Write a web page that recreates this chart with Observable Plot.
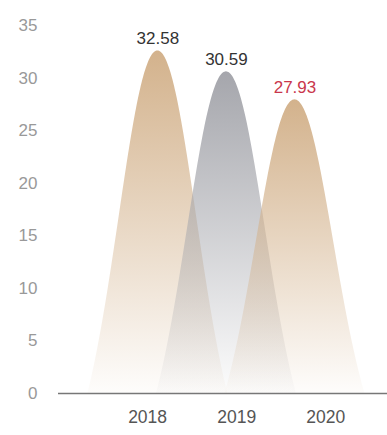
<!DOCTYPE html>
<html>
<head>
<meta charset="utf-8">
<script src="https://cdn.jsdelivr.net/npm/d3@7"></script>
<script src="https://cdn.jsdelivr.net/npm/@observablehq/plot@0.6"></script>
<style>
  html, body { margin: 0; padding: 0; background: #fff; }
  #chart svg { display: block; }
</style>
</head>
<body>
<div id="chart"></div>
<script>
// ---- data ----
const years = ["2018", "2019", "2020"];
const values = [32.58, 30.59, 27.93];
const yTicks = [0, 5, 10, 15, 20, 25, 30, 35];
const labelColors = ["#333333", "#333333", "#c9374c"];
const fills = ["url(#gTan)", "url(#gGray)", "url(#gTan)"];

// ---- layout helpers (geometry, not data) ----
const peakX = i => 1.45 + i;          // mountain centre on x (linear units)
const labelX = i => 1.3 + 1.3 * i;    // category label position
const halfW = 1.02;                   // mountain half width at base

// bell outline: cubic bezier from top (0,1) to base (1,0), mirrored
function bell(cx, h) {
  const a = 0.346, b = 0.574, c = 0.35, n = 90;
  const right = [];
  for (let k = 0; k <= n; k++) {
    const t = k / n, u = 1 - t;
    const xn = 3*u*u*t*a + 3*u*t*t*b + t*t*t;
    const vn = u*u*u + 3*u*u*t + 3*u*t*t*c;
    right.push([xn, vn]);
  }
  const left = right.slice(1).map(([x, v]) => [-x, v]).reverse();
  return [...left, ...right].map(([x, v]) => ({x: cx + halfW * x, y: h * v}));
}

const marks = [];
values.forEach((v, i) => {
  marks.push(Plot.areaY(bell(peakX(i), v), {x: "x", y: "y", fill: fills[i], curve: "linear"}));
});
marks.push(Plot.ruleY([0], {stroke: "#777", strokeWidth: 1.5}));
marks.push(Plot.axisY(yTicks, {tickSize: 0, tickPadding: 21, fill: "#999", fontSize: 17, label: null}));
marks.push(Plot.text(values, {
  x: (d, i) => peakX(i), y: d => d, text: d => d.toFixed(2),
  dy: -12, fill: (d, i) => labelColors[i], fontSize: 17, letterSpacing: 1.4
}));
marks.push(Plot.text(years, {
  x: (d, i) => labelX(i), y: () => 0, text: d => d,
  dy: 24, fill: "#555", fontSize: 17.5, letterSpacing: 2
}));

const chart = Plot.plot({
  width: 387,
  height: 435,
  marginLeft: 58,
  marginRight: 0,
  marginTop: 25,
  marginBottom: 42,
  style: {fontFamily: "'Liberation Sans', Helvetica, Arial, sans-serif", background: "#fff", overflow: "visible"},
  x: {domain: [0, 4.8], axis: null},
  y: {domain: [0, 35], axis: null},
  marks
});

// gradients
const ns = "http://www.w3.org/2000/svg";
const defs = document.createElementNS(ns, "defs");
function grad(id, color) {
  const g = document.createElementNS(ns, "linearGradient");
  g.setAttribute("id", id);
  g.setAttribute("x1", "0"); g.setAttribute("y1", "0");
  g.setAttribute("x2", "0"); g.setAttribute("y2", "1");
  [[0, 1], [0.5, 0.52], [1, 0.03]].forEach(([o, a]) => {
    const s = document.createElementNS(ns, "stop");
    s.setAttribute("offset", o);
    s.setAttribute("stop-color", color);
    s.setAttribute("stop-opacity", a);
    g.appendChild(s);
  });
  defs.appendChild(g);
}
grad("gTan", "rgb(211,178,140)");
grad("gGray", "rgb(165,166,172)");
chart.insertBefore(defs, chart.firstChild);

document.getElementById("chart").appendChild(chart);
</script>
</body>
</html>
